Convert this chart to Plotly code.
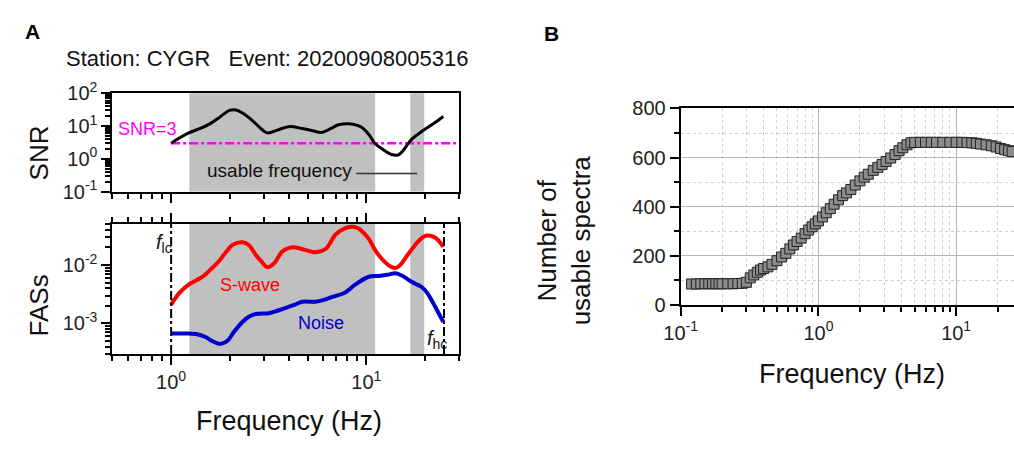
import math
import plotly.graph_objects as go

FONT = "Liberation Sans, Arial, sans-serif"
W, H = 1014, 450

# ---------------- data: panel A (SNR) ----------------
snr_freq = [1.0, 1.1, 1.24, 1.4, 1.57, 1.78, 1.99, 2.15, 2.32, 2.6, 2.85, 3.11, 3.5, 4.0,
            4.7, 5.3, 5.9, 6.6, 7.2, 8.1, 9.0, 9.5, 10.3, 11.1, 12.2, 13.5, 14.5, 15.2,
            16.0, 17.1, 19.0, 20.8, 22.8, 24.8]
snr_vals = [3.0, 4.3, 6.3, 8.3, 11.5, 19.0, 30.0, 31.0, 25.0, 15.0, 9.0, 6.2, 7.5, 9.6,
            8.4, 7.2, 6.4, 8.5, 11.0, 11.8, 10.5, 9.0, 5.5, 2.9, 1.9, 1.35, 1.3, 1.6,
            2.4, 4.0, 6.5, 9.4, 13.5, 19.5]
snr_threshold = 3.0

# ---------------- data: panel A (FAS) ----------------
swave_freq = [1.0, 1.1, 1.24, 1.35, 1.45, 1.6, 1.76, 1.92, 2.06, 2.32, 2.5, 2.71, 2.9, 3.11,
              3.35, 3.71, 4.0, 4.34, 4.9, 5.5, 6.2, 6.95, 7.7, 8.45, 9.0, 9.5, 10.3, 11.1,
              12.2, 13.5, 14.3, 15.1, 16.3, 17.8, 19.0, 20.4, 22.5, 24.8]
swave_vals = [2.1e-3, 3.3e-3, 4.7e-3, 5.5e-3, 6.3e-3, 8.5e-3, 1.17e-2, 1.7e-2, 2.2e-2,
              2.45e-2, 2.2e-2, 1.5e-2, 1.15e-2, 9.2e-3, 1.05e-2, 1.7e-2, 1.95e-2, 2.0e-2,
              1.8e-2, 1.65e-2, 1.9e-2, 3.3e-2, 4.2e-2, 4.5e-2, 4.3e-2, 3.8e-2, 2.8e-2,
              1.8e-2, 1.2e-2, 9.2e-3, 9.0e-3, 1.05e-2, 1.5e-2, 2.2e-2, 2.8e-2, 3.2e-2,
              2.95e-2, 2.05e-2]
noise_freq = [1.0, 1.15, 1.34, 1.51, 1.62, 1.75, 1.85, 1.95, 2.1, 2.32, 2.5, 2.71, 3.17,
              3.5, 3.86, 4.3, 4.7, 5.5, 6.0, 6.7, 7.8, 8.8, 10.3, 11.6, 12.8, 14.1, 15.2,
              16.4, 17.8, 19.2, 20.4, 21.6, 23.0, 24.8]
noise_vals = [6.7e-4, 6.7e-4, 6.6e-4, 5.8e-4, 5.0e-4, 4.5e-4, 4.6e-4, 5.1e-4, 7.2e-4,
              1.06e-3, 1.3e-3, 1.45e-3, 1.5e-3, 1.65e-3, 1.85e-3, 2.1e-3, 2.35e-3, 2.35e-3,
              2.5e-3, 2.85e-3, 3.4e-3, 4.65e-3, 6.3e-3, 6.5e-3, 6.8e-3, 7.2e-3, 6.6e-3,
              5.6e-3, 4.8e-3, 4.2e-3, 3.4e-3, 2.5e-3, 1.7e-3, 1.06e-3]
usable_bands = [(1.24, 11.1), (16.8, 19.8)]
f_lc, f_hc = 1.0, 25.0

# ---------------- data: panel B ----------------
count_freq = [0.12, 0.13, 0.14, 0.15, 0.16, 0.17, 0.18, 0.19, 0.20, 0.22, 0.24, 0.26, 0.28,
              0.30, 0.32, 0.34, 0.36, 0.38, 0.40, 0.43, 0.46, 0.50, 0.54, 0.58, 0.62, 0.66,
              0.70, 0.75, 0.80, 0.85, 0.90, 0.95, 1.00, 1.07, 1.14, 1.22, 1.30, 1.40, 1.50,
              1.60, 1.72, 1.85, 2.00, 2.15, 2.30, 2.50, 2.70, 2.90, 3.10, 3.35, 3.60, 3.85,
              4.10, 4.40, 4.70, 5.00, 5.50, 6.00, 6.60, 7.20, 8.00, 9.00, 10.0, 11.0, 12.0,
              13.0, 14.0, 15.0, 16.5, 18.0, 19.5, 21.0, 22.5, 24.0, 25.5]
count_vals = [85, 85, 86, 86, 86, 86, 86, 86, 86, 86, 86, 87, 88, 92, 110, 122, 133, 142,
              148, 155, 165, 180, 195, 210, 228, 244, 258, 272, 290, 305, 318, 330, 342,
              358, 375, 392, 410, 428, 445, 456, 470, 488, 505, 520, 532, 548, 560, 572,
              584, 598, 612, 628, 640, 652, 660, 662, 662, 662, 662, 662, 662, 662, 662,
              662, 661, 660, 658, 655, 652, 648, 643, 637, 632, 628, 624]

a_xticks = [1, 10]
a_xticktext = ["10<sup>0</sup>", "10<sup>1</sup>"]
snr_yticks = [0.1, 1, 10, 100]
snr_yticktext = ["10<sup>-1</sup>", "10<sup>0</sup>", "10<sup>1</sup>", "10<sup>2</sup>"]
fas_yticks = [1e-3, 1e-2]
fas_yticktext = ["10<sup>-3</sup>", "10<sup>-2</sup>"]
b_xticks = [0.1, 1, 10]
b_xticktext = ["10<sup>-1</sup>", "10<sup>0</sup>", "10<sup>1</sup>"]
b_yticks = [0, 200, 400, 600, 800]
b_yminor = [100, 300, 500, 700]


def log_minor(lo_exp, hi_exp):
    return [m * 10 ** e for e in range(lo_exp, hi_exp + 1) for m in range(2, 10)]


def px(x):
    return x / W


def py(y):
    return 1 - y / H


A_XRANGE = [math.log10(0.5), math.log10(30)]
SNR_RANGE = [-1, 2]
FAS_RANGE = [math.log10(3e-4), math.log10(5.1e-2)]
B_XRANGE = [-1, 1.42]

fig = go.Figure()

fig.add_trace(go.Scatter(x=[f_lc, 30], y=[snr_threshold, snr_threshold], mode="lines",
                         line=dict(color="#ff00ff", width=2.5, dash="dashdot"),
                         xaxis="x", yaxis="y", showlegend=False))
fig.add_trace(go.Scatter(x=snr_freq, y=snr_vals, mode="lines", line_shape="spline",
                         line=dict(color="black", width=3), xaxis="x", yaxis="y",
                         showlegend=False))
fig.add_trace(go.Scatter(x=swave_freq, y=swave_vals, mode="lines", line_shape="spline",
                         line=dict(color="#ff0000", width=4), xaxis="x2", yaxis="y2",
                         showlegend=False))
fig.add_trace(go.Scatter(x=noise_freq, y=noise_vals, mode="lines", line_shape="spline",
                         line=dict(color="#0000cc", width=4), xaxis="x2", yaxis="y2",
                         showlegend=False))
fig.add_trace(go.Scatter(x=count_freq, y=count_vals, mode="markers",
                         marker=dict(symbol="square", size=10, color="#8c8c8c",
                                     line=dict(color="#222222", width=1)),
                         xaxis="x3", yaxis="y3", showlegend=False))

# invisible anchors so the minor-tick overlay axes are drawn
for xa, ya in (("x4", "y"), ("x", "y4"), ("x5", "y2"), ("x2", "y5"), ("x6", "y3"),
               ("x3", "y6")):
    fig.add_trace(go.Scatter(x=[None], y=[None], xaxis=xa, yaxis=ya, mode="markers",
                             showlegend=False, hoverinfo="skip"))

shapes = []
for (a, b) in usable_bands:
    for xr, yr in (("x", "y domain"), ("x2", "y2 domain")):
        shapes.append(dict(type="rect", xref=xr, yref=yr, x0=a, x1=b, y0=0, y1=1,
                           fillcolor="#c0c0c0", line=dict(width=0), layer="below"))
for fv in (f_lc, f_hc):
    shapes.append(dict(type="line", xref="x2", yref="y2 domain", x0=fv, x1=fv, y0=0, y1=1,
                       line=dict(color="black", width=2, dash="dashdot")))
# key line next to "usable frequency"
shapes.append(dict(type="line", xref="paper", yref="paper", x0=px(345), x1=px(407),
                   y0=py(169), y1=py(169), line=dict(color="#333333", width=1.5)))

common_axis = dict(showline=True, linecolor="black", linewidth=2, ticks="outside",
                   tickcolor="black", tickwidth=1.5, showgrid=False, zeroline=False,
                   tickfont=dict(family=FONT, size=20, color="#222"))
minor_axis = dict(showline=False, ticks="outside", tickcolor="black", tickwidth=1.5,
                  ticklen=6, showgrid=False, zeroline=False, showticklabels=False,
                  tickmode="array")

minor_a_x = [0.5, 0.6, 0.7, 0.8, 0.9] + [v for v in log_minor(0, 1) if v <= 30]
minor_snr_y = log_minor(-1, 1)
minor_fas_y = [3e-4, 4e-4, 5e-4, 6e-4, 7e-4, 8e-4, 9e-4] + log_minor(-3, -2)
minor_b_x = log_minor(-1, 1)

DOM_AX = [px(97), px(450)]
DOM_SNR = [py(188), py(84)]
DOM_FAS = [py(360), py(222)]
DOM_BX = [px(675), 1.0]
DOM_BY = [py(308), py(100)]

layout_axes = dict(
    xaxis=dict(domain=DOM_AX, anchor="y", type="log", range=A_XRANGE, tickmode="array",
               tickvals=a_xticks, showticklabels=False, ticklen=9, mirror=True,
               **common_axis),
    yaxis=dict(domain=DOM_SNR, anchor="x", type="log", range=SNR_RANGE, tickmode="array",
               tickvals=snr_yticks, ticktext=snr_yticktext, ticklen=9, mirror=True,
               **common_axis),
    xaxis2=dict(domain=DOM_AX, anchor="y2", type="log", range=A_XRANGE, tickmode="array",
                tickvals=a_xticks, ticktext=a_xticktext, ticklen=9, mirror="allticks",
                **common_axis),
    yaxis2=dict(domain=DOM_FAS, anchor="x2", type="log", range=FAS_RANGE, tickmode="array",
                tickvals=fas_yticks, ticktext=fas_yticktext, ticklen=9, mirror=True,
                **common_axis),
    xaxis3=dict(domain=DOM_BX, anchor="y3", type="log", range=B_XRANGE, tickmode="array",
                tickvals=b_xticks, ticktext=b_xticktext, ticklen=9, mirror=True,
                **{**common_axis, "showgrid": True}, gridcolor="#b5b5b5", gridwidth=1,
                minor=dict(tickmode="array", tickvals=minor_b_x, ticks="", showgrid=True,
                           gridcolor="#cfcfcf", griddash="dot", gridwidth=1)),
    yaxis3=dict(domain=DOM_BY, anchor="x3", range=[0, 800], tickmode="array",
                tickvals=b_yticks, ticklen=9, mirror=False,
                **{**common_axis, "showgrid": True}, gridcolor="#b5b5b5", gridwidth=1,
                minor=dict(tickmode="array", tickvals=b_yminor, ticks="", showgrid=True,
                           gridcolor="#cfcfcf", griddash="dot", gridwidth=1)),
    # minor-tick overlay axes
    xaxis4=dict(overlaying="x", anchor="y", side="bottom", type="log", range=A_XRANGE,
                tickvals=minor_a_x, **minor_axis),
    yaxis4=dict(overlaying="y", anchor="x", side="left", type="log", range=SNR_RANGE,
                tickvals=minor_snr_y, **minor_axis),
    xaxis5=dict(overlaying="x2", anchor="y2", side="bottom", type="log", range=A_XRANGE,
                tickvals=minor_a_x, mirror="allticks", **minor_axis),
    yaxis5=dict(overlaying="y2", anchor="x2", side="left", type="log", range=FAS_RANGE,
                tickvals=minor_fas_y, **minor_axis),
    xaxis6=dict(overlaying="x3", anchor="y3", side="bottom", type="log", range=B_XRANGE,
                tickvals=minor_b_x, **minor_axis),
    yaxis6=dict(overlaying="y3", anchor="x3", side="left", range=[0, 800],
                tickvals=b_yminor, **minor_axis),
)


def ann(text, x, y, size, color="#111", angle=0, bold=False, xanchor="center"):
    t = f"<b>{text}</b>" if bold else text
    return dict(text=t, x=px(x), y=py(y), xref="paper", yref="paper", showarrow=False,
                xanchor=xanchor, yanchor="middle", textangle=angle,
                font=dict(family=FONT, size=size, color=color))


annotations = [
    ann("A", 16, 19, 21, color="black", bold=True),
    ann("B", 544, 21, 21, color="black", bold=True),
    ann("Station: CYGR   Event: 20200908005316", 254, 47, 22),
    ann("SNR", 22, 147, 26, angle=-90),
    ann("FASs", 22, 309, 26, angle=-90),
    ann("Frequency (Hz)", 277, 431, 27),
    ann("SNR=3", 133, 122, 18, color="#ff00ff"),
    ann("usable frequency", 267, 166, 19),
    ann("S-wave", 237, 287, 18, color="#ff0000"),
    ann("Noise", 309, 327, 18, color="#0000cc"),
    ann("<i>f</i><sub>lc</sub>", 150, 243, 20),
    ann("<i>f</i><sub>hc</sub>", 427, 345, 20),
    ann("Number of<br>usable spectra", 556, 240, 26, angle=-90),
    ann("Frequency (Hz)", 849, 381, 27),
]

fig.update_layout(
    width=W, height=H, margin=dict(l=0, r=0, t=0, b=0),
    paper_bgcolor="white", plot_bgcolor="white",
    shapes=shapes, annotations=annotations, showlegend=False,
    font=dict(family=FONT),
    **layout_axes,
)

fig.write_html("out.html")
